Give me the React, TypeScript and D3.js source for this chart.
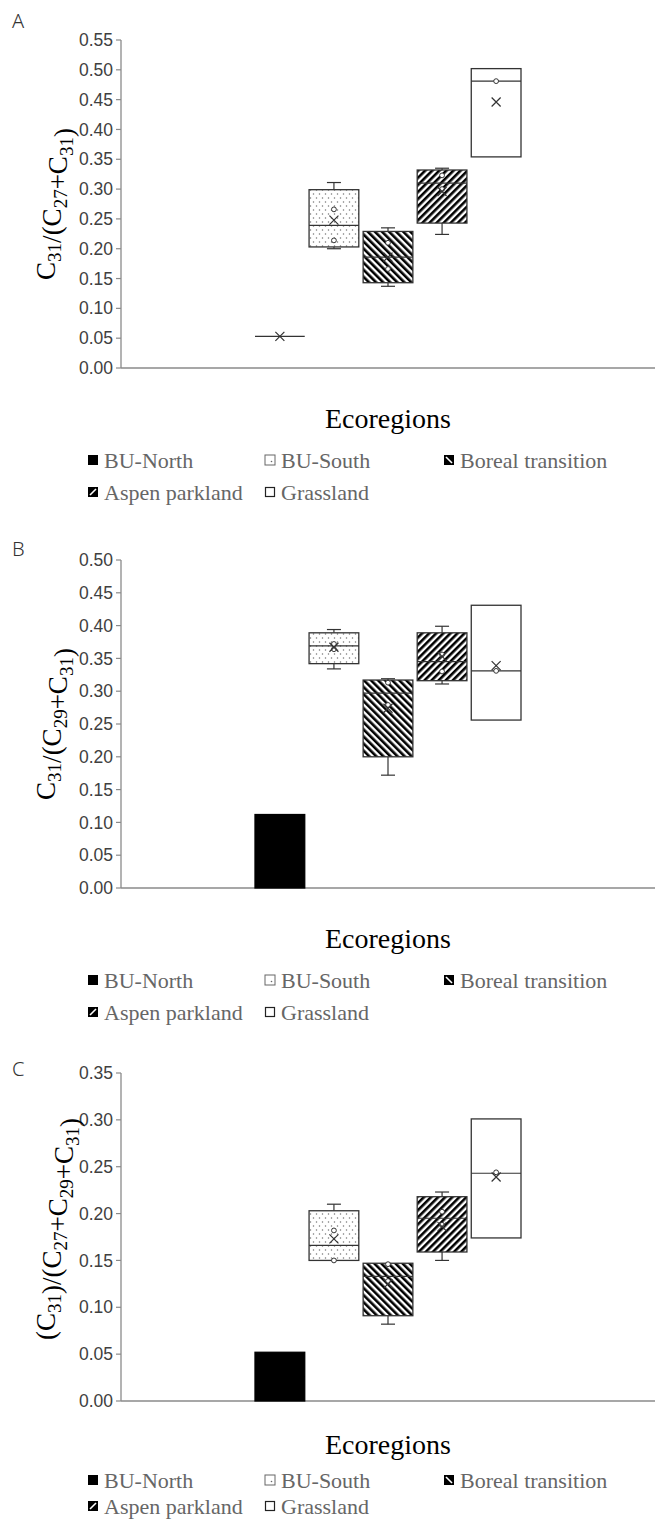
import React from "react";
import * as d3 from "d3";

const ecoregions = ["BU-North", "BU-South", "Boreal transition", "Aspen parkland", "Grassland"];

// Panel A: C31/(C27+C31)
const aMin = [0.053, 0.2, 0.137, 0.224, 0.354];
const aQ1 = [0.053, 0.203, 0.143, 0.243, 0.354];
const aMedian = [0.053, 0.239, 0.186, 0.31, 0.481];
const aQ3 = [0.053, 0.299, 0.229, 0.332, 0.502];
const aMax = [0.053, 0.311, 0.235, 0.335, 0.502];
const aMean = [0.053, 0.248, 0.186, 0.296, 0.446];
const aPoints = [[], [0.266, 0.214], [0.21, 0.166], [0.323, 0.3], [0.481]];
const aTicks = [0, 0.05, 0.1, 0.15, 0.2, 0.25, 0.3, 0.35, 0.4, 0.45, 0.5, 0.55];

// Panel B: C31/(C29+C31)
const bMin = [0, 0.334, 0.172, 0.311, 0.256];
const bQ1 = [0, 0.342, 0.2, 0.316, 0.256];
const bMedian = [0.056, 0.369, 0.297, 0.345, 0.331];
const bQ3 = [0.112, 0.389, 0.317, 0.389, 0.431];
const bMax = [0.112, 0.394, 0.319, 0.399, 0.431];
const bMean = [0.056, 0.367, 0.274, 0.353, 0.339];
const bPoints = [[], [0.372, 0.364], [0.313, 0.279], [0.356, 0.33], [0.331]];
const bTicks = [0, 0.05, 0.1, 0.15, 0.2, 0.25, 0.3, 0.35, 0.4, 0.45, 0.5];

// Panel C: (C31)/(C27+C29+C31)
const cMin = [0, 0.15, 0.082, 0.15, 0.174];
const cQ1 = [0, 0.15, 0.091, 0.159, 0.174];
const cMedian = [0.026, 0.166, 0.133, 0.195, 0.243];
const cQ3 = [0.052, 0.203, 0.147, 0.218, 0.301];
const cMax = [0.052, 0.21, 0.147, 0.223, 0.301];
const cMean = [0.026, 0.173, 0.125, 0.186, 0.239];
const cPoints = [[], [0.182, 0.15], [0.146, 0.128], [0.202, 0.188], [0.244]];
const cTicks = [0, 0.05, 0.1, 0.15, 0.2, 0.25, 0.3, 0.35];

const fills = ["#000", "url(#dots)", "url(#hatchDown)", "url(#hatchUp)", "#fff"];

const STROKE = "#333";
const AXIS = "#8a8a8a";
const X0 = 121;
const X1 = 655;

function YLabel({ panel, x, y }: { panel: string; x: number; y: number }) {
  const sub = (s: string) => (
    <>
      <tspan dy={6} fontSize={19}>{s}</tspan>
      <tspan dy={-6}>{""}</tspan>
    </>
  );
  let content;
  if (panel === "A") {
    content = (
      <>
        <tspan>C</tspan>{sub("31")}<tspan>/(C</tspan>{sub("27")}<tspan>+C</tspan>{sub("31")}<tspan>)</tspan>
      </>
    );
  } else if (panel === "B") {
    content = (
      <>
        <tspan>C</tspan>{sub("31")}<tspan>/(C</tspan>{sub("29")}<tspan>+C</tspan>{sub("31")}<tspan>)</tspan>
      </>
    );
  } else {
    content = (
      <>
        <tspan>(C</tspan>{sub("31")}<tspan>)/(C</tspan>{sub("27")}<tspan>+C</tspan>{sub("29")}<tspan>+C</tspan>{sub("31")}<tspan>)</tspan>
      </>
    );
  }
  return (
    <text
      transform={`translate(${x},${y}) rotate(-90)`}
      textAnchor="middle"
      fontFamily="'Liberation Serif', 'Times New Roman', serif"
      fontSize={27}
      fill="#000"
    >
      {content}
    </text>
  );
}

function LegendIcon({ i, x, y }: { i: number; x: number; y: number }) {
  const s = 10;
  if (i === 0) return <rect x={x} y={y} width={s} height={s} fill="#000" />;
  if (i === 1)
    return (
      <g>
        <rect x={x} y={y} width={s} height={s} fill="#fff" stroke="#666" strokeWidth={1} />
        <circle cx={x + 6.5} cy={y + 6.5} r={0.8} fill="#666" />
      </g>
    );
  if (i === 2)
    return (
      <g>
        <rect x={x} y={y} width={s} height={s} fill="#000" />
        <line x1={x + 2} y1={y + 2} x2={x + 8} y2={y + 8} stroke="#fff" strokeWidth={1.6} />
      </g>
    );
  if (i === 3)
    return (
      <g>
        <rect x={x} y={y} width={s} height={s} fill="#000" />
        <line x1={x + 2} y1={y + 8} x2={x + 8} y2={y + 2} stroke="#fff" strokeWidth={1.6} />
      </g>
    );
  return <rect x={x + 0.5} y={y + 0.5} width={s - 1} height={s - 1} fill="#fff" stroke="#222" strokeWidth={1.2} />;
}

type PanelProps = {
  letter: string;
  mins: number[];
  q1s: number[];
  meds: number[];
  q3s: number[];
  maxs: number[];
  means: number[];
  points: number[][];
  ticks: number[];
  yTop: number;
  yBottom: number;
  labelY: number;
  titleY: number;
  leg1: number;
  leg2: number;
  yLabelShift: number;
};

function Panel(p: PanelProps) {
  const maxTick = p.ticks[p.ticks.length - 1];
  const y = d3.scaleLinear().domain([0, maxTick]).range([p.yBottom, p.yTop]);
  const center = (X0 + X1) / 2;
  const groupW = 266;
  const x = d3
    .scaleBand<string>()
    .domain(ecoregions)
    .range([center - groupW / 2, center + groupW / 2])
    .paddingInner(0.08)
    .paddingOuter(0);
  const bw = x.bandwidth();
  const fmt = d3.format(".2f");
  const capW = 14;
  const legX = [88, 265, 444];
  return (
    <g>
      <text x={12} y={p.labelY} fontFamily="'Noto Sans', 'DejaVu Sans', sans-serif" fontSize={20} fill="#333" fontWeight={300}>
        {p.letter}
      </text>
      {/* axes */}
      <line x1={X0} x2={X0} y1={p.yTop} y2={p.yBottom} stroke={AXIS} strokeWidth={1.3} />
      <line x1={X0} x2={X1} y1={p.yBottom} y2={p.yBottom} stroke={AXIS} strokeWidth={1.3} />
      {p.ticks.map((t) => (
        <g key={t}>
          <line x1={X0 - 5} x2={X0} y1={y(t)} y2={y(t)} stroke={AXIS} strokeWidth={1.2} />
          <text
            x={X0 - 8}
            y={y(t)}
            dy="0.35em"
            textAnchor="end"
            fontFamily="'Liberation Sans', Arial, sans-serif"
            fontSize={17.5}
            fill="#404040"
          >
            {fmt(t)}
          </text>
        </g>
      ))}
      <YLabel panel={p.letter} x={55} y={(p.yTop + p.yBottom) / 2 + p.yLabelShift} />
      {/* boxes */}
      {ecoregions.map((e, i) => {
        const x0 = x(e)!;
        const cx = x0 + bw / 2;
        const yq1 = y(p.q1s[i]);
        const yq3 = y(p.q3s[i]);
        const ymed = y(p.meds[i]);
        const ymin = y(p.mins[i]);
        const ymax = y(p.maxs[i]);
        const ym = y(p.means[i]);
        const solid = fills[i] === "#000" && p.q3s[i] > p.q1s[i];
        const sc = solid ? "#000" : STROKE;
        return (
          <g key={e}>
            {p.maxs[i] > p.q3s[i] && (
              <g>
                <line x1={cx} x2={cx} y1={yq3} y2={ymax} stroke={sc} strokeWidth={1.2} />
                <line x1={cx - capW / 2} x2={cx + capW / 2} y1={ymax} y2={ymax} stroke={sc} strokeWidth={1.2} />
              </g>
            )}
            {p.mins[i] < p.q1s[i] && (
              <g>
                <line x1={cx} x2={cx} y1={yq1} y2={ymin} stroke={sc} strokeWidth={1.2} />
                <line x1={cx - capW / 2} x2={cx + capW / 2} y1={ymin} y2={ymin} stroke={sc} strokeWidth={1.2} />
              </g>
            )}
            <rect
              x={x0}
              y={yq3}
              width={bw}
              height={Math.max(0, yq1 - yq3)}
              fill={fills[i]}
              stroke={sc}
              strokeWidth={1.3}
            />
            <line x1={x0} x2={x0 + bw} y1={ymed} y2={ymed} stroke={sc} strokeWidth={1.2} />
            {p.points[i].map((v, k) => (
              <circle key={k} cx={cx} cy={y(v)} r={2.4} fill="#fff" stroke={STROKE} strokeWidth={1} />
            ))}
            <path
              d={`M${cx - 4.5},${ym - 4.5}L${cx + 4.5},${ym + 4.5}M${cx - 4.5},${ym + 4.5}L${cx + 4.5},${ym - 4.5}`}
              stroke={sc}
              strokeWidth={1.2}
              fill="none"
            />
          </g>
        );
      })}
      {/* x title */}
      <text
        x={center}
        y={p.titleY}
        textAnchor="middle"
        fontFamily="'Liberation Serif', 'Times New Roman', serif"
        fontSize={28}
        fill="#000"
      >
        Ecoregions
      </text>
      {/* legend */}
      {ecoregions.map((e, i) => {
        const row = i < 3 ? 0 : 1;
        const col = i < 3 ? i : i - 3;
        const lx = legX[col];
        const ly = row === 0 ? p.leg1 : p.leg2;
        return (
          <g key={"l" + e}>
            <LegendIcon i={i} x={lx} y={ly - 13} />
            <text
              x={lx + 16}
              y={ly}
              fontFamily="'Liberation Serif', 'Times New Roman', serif"
              fontSize={22}
              fill="#666"
            >
              {e}
            </text>
          </g>
        );
      })}
    </g>
  );
}

export default function App() {
  return (
    <svg width={657} height={1536} style={{ display: "block", position: "absolute", left: 0, top: 0 }}>
      <defs>
        <pattern id="dots" width={6} height={8} patternUnits="userSpaceOnUse">
          <rect width={6} height={8} fill="#fff" />
          <circle cx={1.5} cy={2} r={0.75} fill="#777" />
          <circle cx={4.5} cy={6} r={0.75} fill="#777" />
        </pattern>
        <pattern id="hatchDown" width={5} height={5} patternUnits="userSpaceOnUse" patternTransform="rotate(-45)">
          <rect width={5} height={5} fill="#fff" />
          <rect width={2.6} height={5} fill="#000" />
        </pattern>
        <pattern id="hatchUp" width={5} height={5} patternUnits="userSpaceOnUse" patternTransform="rotate(45)">
          <rect width={5} height={5} fill="#fff" />
          <rect width={2.6} height={5} fill="#000" />
        </pattern>
      </defs>
      <rect width={657} height={1536} fill="#fff" />
      <Panel
        letter="A"
        mins={aMin}
        q1s={aQ1}
        meds={aMedian}
        q3s={aQ3}
        maxs={aMax}
        means={aMean}
        points={aPoints}
        ticks={aTicks}
        yTop={40}
        yBottom={368}
        labelY={28}
        titleY={428}
        leg1={468}
        leg2={500}
        yLabelShift={0}
      />
      <Panel
        letter="B"
        mins={bMin}
        q1s={bQ1}
        meds={bMedian}
        q3s={bQ3}
        maxs={bMax}
        means={bMean}
        points={bPoints}
        ticks={bTicks}
        yTop={560}
        yBottom={888}
        labelY={556}
        titleY={948}
        leg1={988}
        leg2={1020}
        yLabelShift={0}
      />
      <Panel
        letter="C"
        mins={cMin}
        q1s={cQ1}
        meds={cMedian}
        q3s={cQ3}
        maxs={cMax}
        means={cMean}
        points={cPoints}
        ticks={cTicks}
        yTop={1073}
        yBottom={1401}
        labelY={1076}
        titleY={1454}
        leg1={1488}
        leg2={1514}
        yLabelShift={-8}
      />
    </svg>
  );
}
